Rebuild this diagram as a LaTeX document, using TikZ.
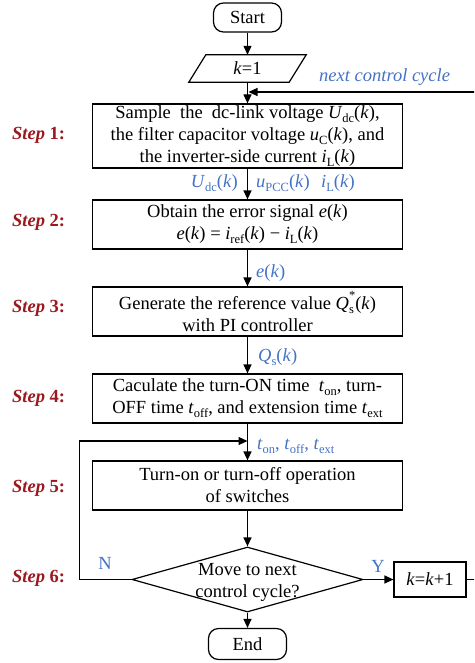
\documentclass[tikz,border=0pt]{standalone}
\usepackage{fontspec}
\setmainfont{Liberation Serif}
\usetikzlibrary{arrows.meta,shapes.geometric,calc}
\definecolor{lblue}{RGB}{68,114,196}
\definecolor{dred}{RGB}{155,25,30}
\newcommand\sbs[1]{\raisebox{-0.22em}{\fontsize{12.5}{12.5}\selectfont #1}}
\newcommand\sps[1]{\raisebox{0.5em}{\fontsize{12.5}{12.5}\selectfont #1}}
\newcommand\kv{(\textit{k})}
\begin{document}
\begin{tikzpicture}[x=1pt,y=-1pt,
  txt/.style={font=\fontsize{18.5}{22}\selectfont},
  box/.style={draw, line width=1.2pt, minimum width=310pt, minimum height=49pt, inner sep=0pt, align=center, txt},
  term/.style={draw, line width=1.2pt, rounded corners=10pt, inner sep=0pt, txt},
  arr/.style={line width=1.2pt, -{Triangle[length=9pt,width=8pt]}},
  plain/.style={line width=1.2pt},
  lbl/.style={text=lblue, inner sep=0pt, txt},
  steplbl/.style={text=dred, anchor=west, inner sep=0pt, font=\fontsize{18.5}{22}\selectfont\bfseries}]
\clip (0,0) rectangle (474,663);

% nodes
\node[term, minimum width=68pt, minimum height=29pt] (start) at (247.5,17.5) {Start};
\node[inner sep=0pt, minimum width=83pt, minimum height=27pt, txt] (k1) at (247.5,68.5) {\textit{k}=1};
\draw[plain] (k1.north west) -- ($(k1.north east)+(17,0)$) -- (k1.south east) -- ($(k1.south west)+(-17,0)$) -- cycle;

\node[box, minimum height=64pt] (b1) at (247.5,136) {Sample\ \ the\ \ dc-link voltage \textit{U}\sbs{dc}\kv,\\the filter capacitor voltage \textit{u}\sbs{C}\kv, and\\the inverter-side current \textit{i}\sbs{L}\kv};
\node[box] (b2) at (247.5,224.5) {Obtain the error signal \textit{e}\kv\\\textit{e}\kv{} = \textit{i}\sbs{ref}\kv{} − \textit{i}\sbs{L}\kv};
\node[box] (b3) at (247.5,311.5) {Generate the reference value \textit{Q}\rlap{\sbs{s}}\sps{*}\kv\\with PI controller};
\node[box] (b4) at (247.5,398.5) {Caculate the turn-ON time\ \ \textit{t}\sbs{on}, turn-\\OFF time \textit{t}\sbs{off}, and extension time \textit{t}\sbs{ext}};
\node[box] (b5) at (247.5,485.5) {Turn-on or turn-off operation\\of switches};

\node[diamond, draw, line width=1.2pt, minimum width=231pt, minimum height=65pt, inner sep=0pt] (dec) at (247.5,579.5) {};
\node[align=center, inner sep=0pt, txt] (dect) at (247.5,582) {Move to next\\control cycle?};
\node[draw, line width=1.2pt, minimum width=72pt, minimum height=35pt, inner sep=0pt, txt] (kk) at (430,579.5) {\textit{k}=\textit{k}+1};
\node[term, minimum width=78pt, minimum height=31pt] (endn) at (247.5,644) {End};

% connectors
\draw[arr] (start.south) -- (start.south |- k1.north);
\draw[arr] (k1.south) -- (k1.south |- b1.north);
\draw[arr] (b1.south) -- (b1.south |- b2.north);
\draw[arr] (b2.south) -- (b2.south |- b3.north);
\draw[arr] (b3.south) -- (b3.south |- b4.north);
\draw[arr] (b4.south) -- (b4.south |- b5.north);
\draw[arr] (b5.south) -- (b5.south |- dec.north);
\draw[arr] (dec.south) -- (endn.north);
\draw[arr] (dec.east) -- (kk.west);
\coordinate (fr) at (248.5,92);
\coordinate (fl) at (247.5,441);
\draw[arr] (kk.east) -- ++(40,0) |- (fr);
\draw[arr] (dec.west) -- ++(-52,0) |- (fl);

% labels
\node[lbl, anchor=west] (ncc) at (319,77) {\textit{next control cycle}};
\node[lbl, anchor=east] (l1) at (238,183) {\textit{U}\sbs{dc}\kv};
\node[lbl, anchor=west] (l2) at (256,183) {\textit{u}\sbs{PCC}\kv};
\node[lbl, anchor=west] (l3) at (321,183) {\textit{i}\sbs{L}\kv};
\node[lbl, anchor=west] (l4) at (256,273) {\textit{e}\kv};
\node[lbl, anchor=west] (l5) at (258,357) {\textit{Q}\sbs{s}\kv};
\node[lbl, anchor=west] (l6) at (257,446) {\textit{t}\sbs{on}, \textit{t}\sbs{off}, \textit{t}\sbs{ext}};
\node[lbl] (ln) at (105,563) {N};
\node[lbl] (ly) at (378,566) {Y};

\node[steplbl] (s1) at (12,135) {\textit{Step} 1:};
\node[steplbl] (s2) at (12,222) {\textit{Step} 2:};
\node[steplbl] (s3) at (12,308) {\textit{Step} 3:};
\node[steplbl] (s4) at (12,398) {\textit{Step} 4:};
\node[steplbl] (s5) at (12,488) {\textit{Step} 5:};
\node[steplbl] (s6) at (12,578) {\textit{Step} 6:};
\end{tikzpicture}
\end{document}
